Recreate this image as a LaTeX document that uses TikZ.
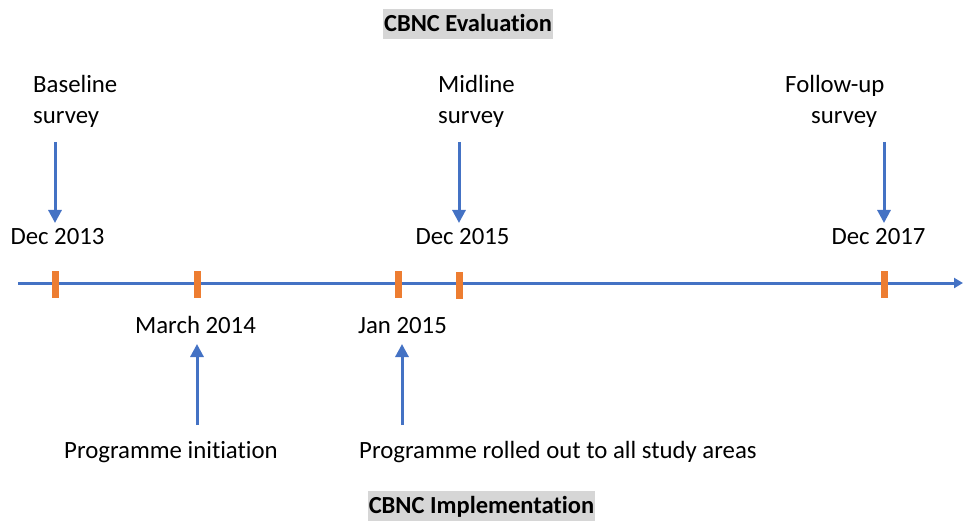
\documentclass[tikz,border=0pt]{standalone}
\usepackage{fontspec}
\setmainfont[Ligatures=NoCommon]{Carlito}
\usetikzlibrary{arrows.meta}
\definecolor{tlblue}{HTML}{4472C4}
\definecolor{tlorange}{HTML}{ED7D31}
\definecolor{hdrgray}{HTML}{D6D6D6}
\begin{document}
\begin{tikzpicture}[x=1pt,y=-1pt,
  lbl/.style={font=\fontsize{24.8}{30}\selectfont, inner sep=0pt},
  hdr/.style={font=\fontsize{24.5}{30}\selectfont\bfseries, fill=hdrgray, inner xsep=1pt, inner ysep=7pt, text height=16pt, text depth=0pt},
  axisline/.style={tlblue, line width=3pt, -{Triangle[length=9pt,width=10pt]}},
  ptr/.style={tlblue, line width=3pt, -{Triangle[length=13pt,width=13pt]}},
  tickmark/.style={fill=tlorange, minimum width=7pt, minimum height=27pt, inner sep=0pt}]
\useasboundingbox (0,0) rectangle (963,521);

% headers
\node[hdr, anchor=base] (eval) at (468,32) {CBNC Evaluation};
\node[hdr, anchor=base, inner ysep=6pt, text depth=5pt] (impl) at (481.5,513) {CBNC Implementation};

% timeline
\coordinate (tlstart) at (18,283);
\coordinate (tlend) at (963,283);
\draw[axisline] (tlstart) -- (tlend);
\node[tickmark] (t1) at (55,284.5) {};
\node[tickmark] (t2) at (197,284) {};
\node[tickmark] (t3) at (398.5,284) {};
\node[tickmark] (t4) at (459.5,285) {};
\node[tickmark] (t5) at (884,284.5) {};

% survey labels
\node[lbl, anchor=base west] (bl1) at (33,93) {Baseline};
\node[lbl, anchor=base west] (bl2) at (33,124) {survey};
\node[lbl, anchor=base west] (ml1) at (438,93) {Midline};
\node[lbl, anchor=base west] (ml2) at (438,124) {survey};
\node[lbl, anchor=base west] (fu1) at (785,93) {Follow-up};
\node[lbl, anchor=base west] (fu2) at (811,124) {survey};

% dates above
\node[lbl, anchor=base] (d13) at (57.5,245) {Dec 2013};
\node[lbl, anchor=base] (d15) at (462.5,245) {Dec 2015};
\node[lbl, anchor=base] (d17) at (878.5,245) {Dec 2017};

% dates below
\node[lbl, anchor=base] (m14) at (195.5,333) {March 2014};
\node[lbl, anchor=base] (j15) at (402.5,333) {Jan 2015};

% programme labels
\node[lbl, anchor=base west] (pi) at (64,458) {Programme initiation};
\node[lbl, anchor=base west] (pr) at (359,458) {Programme rolled out to all study areas};

% arrow coordinates
\coordinate (a1s) at (55,142);  \coordinate (a1e) at (55,223);
\coordinate (a2s) at (459,142); \coordinate (a2e) at (459,223);
\coordinate (a3s) at (884,142); \coordinate (a3e) at (884,223);
\coordinate (b1s) at (197,425); \coordinate (b1e) at (197,344);
\coordinate (b2s) at (402,425); \coordinate (b2e) at (402,344);

\draw[ptr] (a1s) -- (a1e);
\draw[ptr] (a2s) -- (a2e);
\draw[ptr] (a3s) -- (a3e);
\draw[ptr] (b1s) -- (b1e);
\draw[ptr] (b2s) -- (b2e);
\end{tikzpicture}
\end{document}
